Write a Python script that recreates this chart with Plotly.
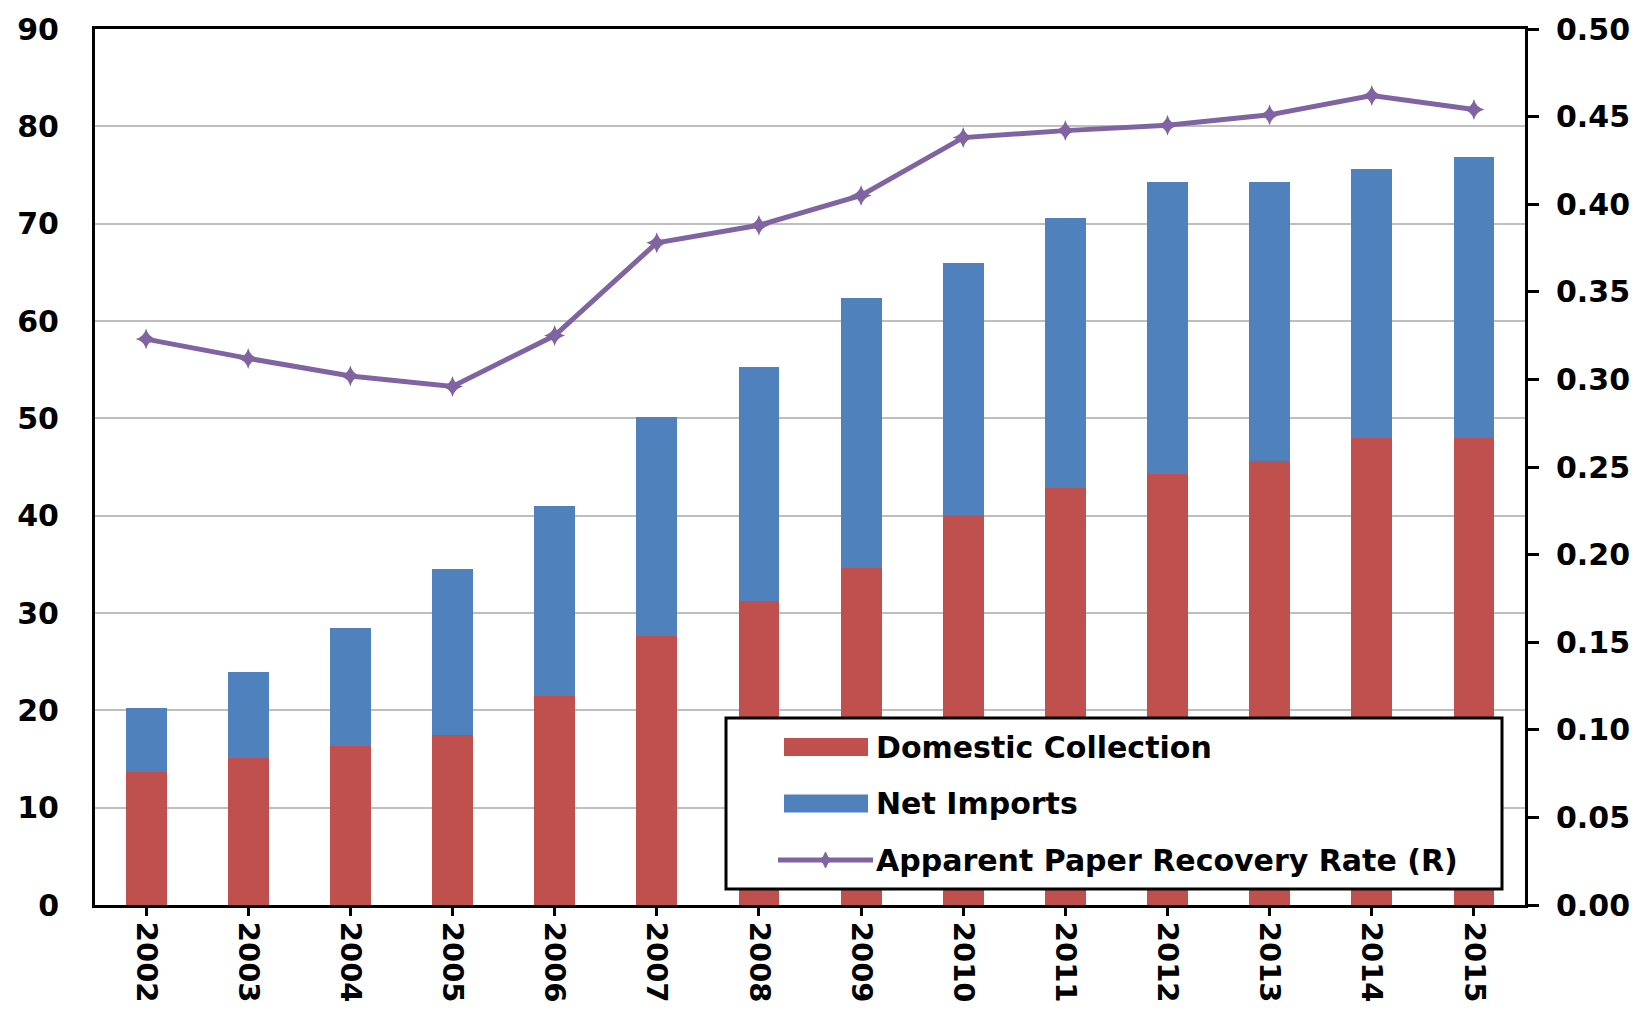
import plotly.graph_objects as go

# ---------------- data ----------------
years = ["2002", "2003", "2004", "2005", "2006", "2007", "2008",
         "2009", "2010", "2011", "2012", "2013", "2014", "2015"]
domestic_collection = [13.7, 15.1, 16.3, 17.5, 21.5, 27.6, 31.2,
                       34.6, 40.1, 42.8, 44.3, 45.6, 48.0, 48.0]
net_imports = [6.5, 8.8, 12.2, 17.0, 19.5, 22.5, 24.1,
               27.8, 25.9, 27.8, 30.0, 28.7, 27.6, 28.8]
recovery_rate = [0.323, 0.312, 0.302, 0.296, 0.325, 0.378, 0.388,
                 0.405, 0.438, 0.442, 0.445, 0.451, 0.462, 0.454]
left_ticks = [0, 10, 20, 30, 40, 50, 60, 70, 80, 90]
right_ticks = [0.00, 0.05, 0.10, 0.15, 0.20, 0.25, 0.30, 0.35, 0.40, 0.45, 0.50]
series_names = ["Domestic Collection", "Net Imports",
                "Apparent Paper Recovery Rate (R)"]

# ---------------- style ----------------
RED = "#C0504D"
BLUE = "#4F81BD"
PURPLE = "#8064A2"
GRID = "#BEBEBE"
FONT = "DejaVu Sans"
W, H = 1649, 1010
ML, MR, MT, MB = 95, 124, 29, 105
PW, PH = W - ML - MR, H - MT - MB


def px_x(p):
    return (p - ML) / PW


def px_y(p):
    return (H - MB - p) / PH


fig = go.Figure()
fig.add_trace(go.Bar(x=years, y=domestic_collection, name=series_names[0],
                     marker=dict(color=RED, line=dict(width=0)),
                     width=0.4, showlegend=False))
fig.add_trace(go.Bar(x=years, y=net_imports, name=series_names[1],
                     marker=dict(color=BLUE, line=dict(width=0)),
                     width=0.4, showlegend=False))
fig.add_trace(go.Scatter(x=years, y=recovery_rate, name=series_names[2],
                         yaxis="y2", mode="lines+markers",
                         line=dict(color=PURPLE, width=5),
                         marker=dict(symbol="star-diamond", size=15, color=PURPLE),
                         showlegend=False))

# ---------------- custom legend ----------------
shapes = []
annotations = []
box = dict(x0=726, x1=1502, y0=718, y1=889)
shapes.append(dict(type="rect", xref="paper", yref="paper", layer="above",
                   x0=px_x(box["x0"]), x1=px_x(box["x1"]),
                   y0=px_y(box["y1"]), y1=px_y(box["y0"]),
                   fillcolor="white", line=dict(color="black", width=3)))
rows = [747, 803.5, 860]
sw_x0, sw_x1, txt_x = 784, 868, 874
for color, yc in [(RED, rows[0]), (BLUE, rows[1])]:
    shapes.append(dict(type="rect", xref="paper", yref="paper", layer="above",
                       x0=px_x(sw_x0), x1=px_x(sw_x1),
                       y0=px_y(yc + 9), y1=px_y(yc - 9),
                       fillcolor=color, line=dict(width=0)))
# line sample
yc = rows[2]
shapes.append(dict(type="line", xref="paper", yref="paper", layer="above",
                   x0=px_x(778), x1=px_x(873), y0=px_y(yc), y1=px_y(yc),
                   line=dict(color=PURPLE, width=5)))
cx, r, ri = 825.5, 8, 2.5
pts = [(cx, yc - r), (cx + ri, yc - ri), (cx + r, yc), (cx + ri, yc + ri),
       (cx, yc + r), (cx - ri, yc + ri), (cx - r, yc), (cx - ri, yc - ri)]
path = "M" + " L".join(f"{px_x(a):.5f},{px_y(b):.5f}" for a, b in pts) + " Z"
shapes.append(dict(type="path", xref="paper", yref="paper", layer="above",
                   path=path, fillcolor=PURPLE, line=dict(color=PURPLE, width=1)))
for name, yc in zip(series_names, rows):
    annotations.append(dict(text=name, xref="paper", yref="paper",
                            x=px_x(txt_x), y=px_y(yc), xanchor="left",
                            yanchor="middle", showarrow=False,
                            font=dict(family=FONT, size=30, color="black",
                                      weight="bold")))

tickfont = dict(family=FONT, size=30, color="black", weight="bold")

fig.update_layout(
    width=W, height=H, autosize=False,
    margin=dict(l=ML, r=MR, t=MT, b=MB, pad=0),
    paper_bgcolor="white", plot_bgcolor="white",
    barmode="stack",
    shapes=shapes, annotations=annotations,
    xaxis=dict(type="category", range=[-0.5, len(years) - 0.5],
               showline=True, linecolor="black", linewidth=3,
               mirror=True, ticks="outside", ticklen=8, tickwidth=3,
               tickcolor="black", tickangle=90,
               tickfont=dict(family=FONT, size=29, color="black", weight="bold"),
               showgrid=False, zeroline=False, ticklabelstandoff=0,
               automargin=False),
    yaxis=dict(range=[0, 90], tickvals=left_ticks, showline=True,
               linecolor="black", linewidth=3, mirror=True,
               showgrid=True, gridcolor=GRID, gridwidth=2, zeroline=False,
               ticks="", tickfont=tickfont, ticklabelstandoff=27,
               automargin=False),
    yaxis2=dict(range=[0, 0.5], tickvals=right_ticks, tickformat=".2f",
                overlaying="y", side="right", showgrid=False, zeroline=False,
                showline=True, linecolor="black", linewidth=3,
                ticks="outside", ticklen=11, tickwidth=3, tickcolor="black",
                tickfont=tickfont, ticklabelstandoff=11, automargin=False),
)

fig.write_html("out.html", config={"displayModeBar": False},
               post_script="document.body.style.margin='0';"
                           "document.body.style.overflow='hidden';")
